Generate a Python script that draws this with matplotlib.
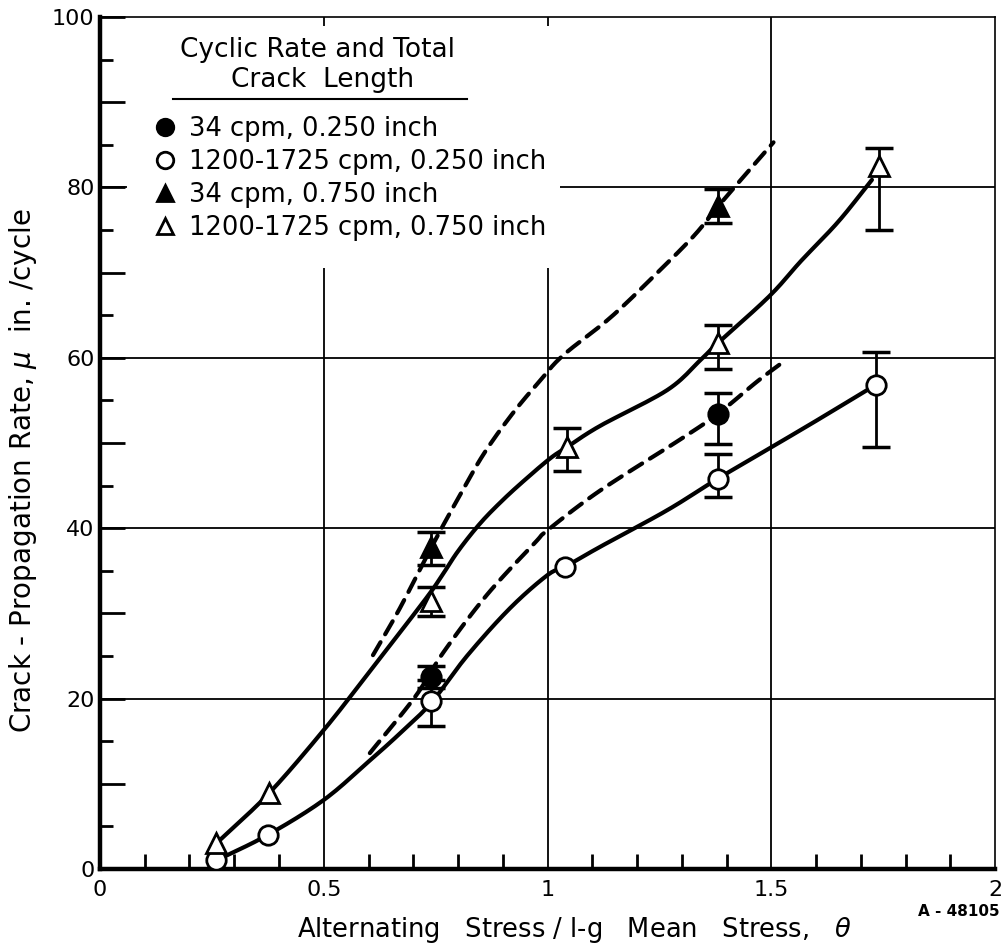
import matplotlib
matplotlib.use("Agg")
import numpy as np
import matplotlib.pyplot as plt
from matplotlib.lines import Line2D
from matplotlib.patches import Rectangle
from matplotlib.ticker import MultipleLocator, FixedLocator

plt.rcParams['font.family'] = ['DejaVu Sans']

# ---------------- data ----------------
# 34 cpm, 0.250 inch (filled circles)
fc_x = [0.74, 1.38]
fc_y = [22.5, 53.4]
fc_err_lo = [1.3, 3.5]
fc_err_hi = [1.3, 2.5]

# 1200-1725 cpm, 0.250 inch (open circles)
oc_x = [0.26, 0.375, 0.74, 1.04, 1.38, 1.735]
oc_y = [1.0, 4.0, 19.7, 35.4, 45.8, 56.8]
oc_err_lo = [0, 0, 2.9, 0, 2.1, 7.3]
oc_err_hi = [0, 0, 2.5, 0, 2.9, 3.9]

# 34 cpm, 0.750 inch (filled triangles)
ft_x = [0.74, 1.38]
ft_y = [37.8, 77.8]
ft_err_lo = [2.1, 2.0]
ft_err_hi = [1.8, 2.0]

# 1200-1725 cpm, 0.750 inch (open triangles)
ot_x = [0.26, 0.378, 0.74, 1.043, 1.38, 1.74]
ot_y = [3.0, 8.9, 31.4, 49.5, 61.8, 82.5]
ot_err_lo = [0, 0, 1.7, 2.8, 3.1, 7.5]
ot_err_hi = [0, 0, 1.7, 2.3, 2.0, 2.1]

# faired curves
oc_curve_x = [0.26, 0.375, 0.5, 0.6, 0.67, 0.74, 0.82, 0.916, 1.0, 1.04, 1.117, 1.267, 1.38, 1.5, 1.6, 1.72]
oc_curve_y = [1.0, 4.0, 8.1, 12.6, 15.9, 19.5, 25.0, 30.6, 34.5, 35.5, 37.8, 42.1, 45.8, 49.5, 52.6, 56.4]

ot_curve_x = [0.26, 0.378, 0.503, 0.6, 0.722, 0.76, 0.80, 0.85, 0.90, 0.95, 1.006, 1.043, 1.117, 1.267, 1.341, 1.38, 1.495, 1.567, 1.65, 1.725]
ot_curve_y = [3.0, 8.9, 16.5, 23.0, 31.3, 34.1, 37.3, 40.6, 43.3, 45.7, 48.2, 49.5, 52.0, 56.2, 59.7, 61.7, 67.2, 71.4, 76.0, 80.9]

fc_curve_x = [0.603, 0.704, 0.767, 0.865, 0.972, 1.001, 1.117, 1.296, 1.38, 1.468, 1.526]
fc_curve_y = [13.6, 20.2, 25.4, 32.2, 38.3, 39.8, 44.4, 50.4, 53.4, 57.2, 59.5]

ft_curve_x = [0.61, 0.67, 0.745, 0.797, 0.856, 0.921, 0.983, 1.035, 1.14, 1.236, 1.325, 1.38, 1.437, 1.505]
ft_curve_y = [25.1, 30.6, 38.2, 43.2, 48.6, 53.4, 57.3, 60.3, 64.7, 69.5, 74.2, 77.7, 81.2, 85.3]

labels = ["34 cpm, 0.250 inch",
          "1200-1725 cpm, 0.250 inch",
          "34 cpm, 0.750 inch",
          "1200-1725 cpm, 0.750 inch"]

x_ticks = [0, 0.5, 1, 1.5, 2]
x_ticklabels = ["0", "0.5", "1", "1.5", "2"]
y_ticks = [0, 20, 40, 60, 80, 100]
y_ticklabels = ["0", "20", "40", "60", "80", "100"]


def smooth_path(xs, ys, n=12):
    """Catmull-Rom rendering of a hand-faired curve through the read points."""
    p = np.column_stack([xs, ys]).astype(float)
    p = np.vstack([2 * p[0] - p[1], p, 2 * p[-1] - p[-2]])
    out = []
    t = np.linspace(0, 1, n, endpoint=False)[:, None]
    for i in range(1, len(p) - 2):
        p0, p1, p2, p3 = p[i - 1], p[i], p[i + 1], p[i + 2]
        seg = 0.5 * ((2 * p1) + (-p0 + p2) * t + (2 * p0 - 5 * p1 + 4 * p2 - p3) * t ** 2
                     + (-p0 + 3 * p1 - 3 * p2 + p3) * t ** 3)
        out.append(seg)
    out.append(p[-2][None, :])
    out = np.vstack(out)
    return out[:, 0], out[:, 1]


# ---------------- figure ----------------
fig = plt.figure(figsize=(10.07, 9.5), dpi=100)
ax = fig.add_axes([0.0993, 0.0853, 0.8888, 0.8967])
ax.set_xlim(0, 2)
ax.set_ylim(0, 100)

LW = 3.0
dash = (3.6, 2.2)

for cx, cy, ls in [(oc_curve_x, oc_curve_y, '-'), (ot_curve_x, ot_curve_y, '-'),
                   (fc_curve_x, fc_curve_y, (0, dash)), (ft_curve_x, ft_curve_y, (0, dash))]:
    sx, sy = smooth_path(cx, cy)
    ax.plot(sx, sy, color='black', lw=LW, linestyle=ls, solid_capstyle='round',
            dash_capstyle='round', zorder=3)

ekw = dict(fmt='none', ecolor='black', elinewidth=2.0, capsize=10, capthick=2.5, zorder=4)
for xs, ys, lo, hi in [(fc_x, fc_y, fc_err_lo, fc_err_hi), (oc_x, oc_y, oc_err_lo, oc_err_hi),
                       (ft_x, ft_y, ft_err_lo, ft_err_hi), (ot_x, ot_y, ot_err_lo, ot_err_hi)]:
    m = (np.array(lo) + np.array(hi)) > 0
    ax.errorbar(np.array(xs)[m], np.array(ys)[m],
                yerr=[np.array(lo)[m], np.array(hi)[m]], **ekw)

MS = 14
h1, = ax.plot(fc_x, fc_y, 'o', ms=MS, mfc='black', mec='black', mew=2, zorder=5)
h2, = ax.plot(oc_x, oc_y, 'o', ms=MS, mfc='white', mec='black', mew=2, zorder=5)
h3, = ax.plot(ft_x, ft_y, '^', ms=MS, mfc='black', mec='black', mew=2, zorder=5)
h4, = ax.plot(ot_x, ot_y, '^', ms=MS, mfc='white', mec='black', mew=2, zorder=5)

# ticks and grid
ax.xaxis.set_major_locator(FixedLocator(x_ticks))
ax.set_xticklabels(x_ticklabels)
ax.xaxis.set_minor_locator(MultipleLocator(0.1))
ax.set_yticks(list(range(0, 101, 10)))
ax.set_yticklabels([str(v) if v in y_ticks else "" for v in range(0, 101, 10)])
ax.yaxis.set_minor_locator(MultipleLocator(5))
for gx in x_ticks[1:-1]:
    ax.axvline(gx, color='black', lw=1.3, zorder=1)
for gy in y_ticks[1:-1]:
    ax.axhline(gy, color='black', lw=1.3, zorder=1)

# white area behind the legend
ax.add_patch(Rectangle((0.03, 0.705), 0.484, 0.285, transform=ax.transAxes,
                       facecolor='white', edgecolor='none', zorder=1.6))

for s in ['left', 'bottom']:
    ax.spines[s].set_linewidth(3.2)
for s in ['top', 'right']:
    ax.spines[s].set_linewidth(1.2)
ax.tick_params(which='major', axis='y', direction='in', length=18, width=2, labelsize=16, pad=4)
ax.tick_params(which='minor', axis='y', direction='in', length=9, width=2)
ax.tick_params(which='minor', axis='x', direction='in', length=11, width=2, top=False)
ax.tick_params(which='major', axis='x', direction='in', length=0, width=2, labelsize=16, pad=8)

ax.set_xlabel("Alternating   Stress / l-g   Mean   Stress,   $\\theta$", fontsize=18.5)
ax.set_ylabel("Crack - Propagation Rate, $\\mu$  in. /cycle", fontsize=20)
ax.xaxis.set_label_coords(0.53, -0.054)
ax.yaxis.set_label_coords(-0.068, 0.468)

# legend
ax.text(0.2425, 0.961, "Cyclic Rate and Total", transform=ax.transAxes, ha='center', va='center',
        fontsize=19, zorder=6)
ax.text(0.249, 0.926, "Crack  Length", transform=ax.transAxes, ha='center', va='center',
        fontsize=19, zorder=6)
ax.add_line(Line2D([0.082, 0.410], [0.904, 0.904], transform=ax.transAxes, color='black',
                   lw=1.5, zorder=6))
leg = ax.legend([h1, h2, h3, h4], labels, loc='upper left', bbox_to_anchor=(0.058, 0.884),
                frameon=False, fontsize=18.5, handlelength=1.0, handletextpad=0.45,
                labelspacing=0.27, borderpad=0, borderaxespad=0, markerscale=0.85)
leg.set_zorder(6)

fig.text(0.993, 0.04, "A - 48105", ha='right', va='center', fontsize=11, fontweight='bold')

fig.savefig("out.png", dpi=100)
